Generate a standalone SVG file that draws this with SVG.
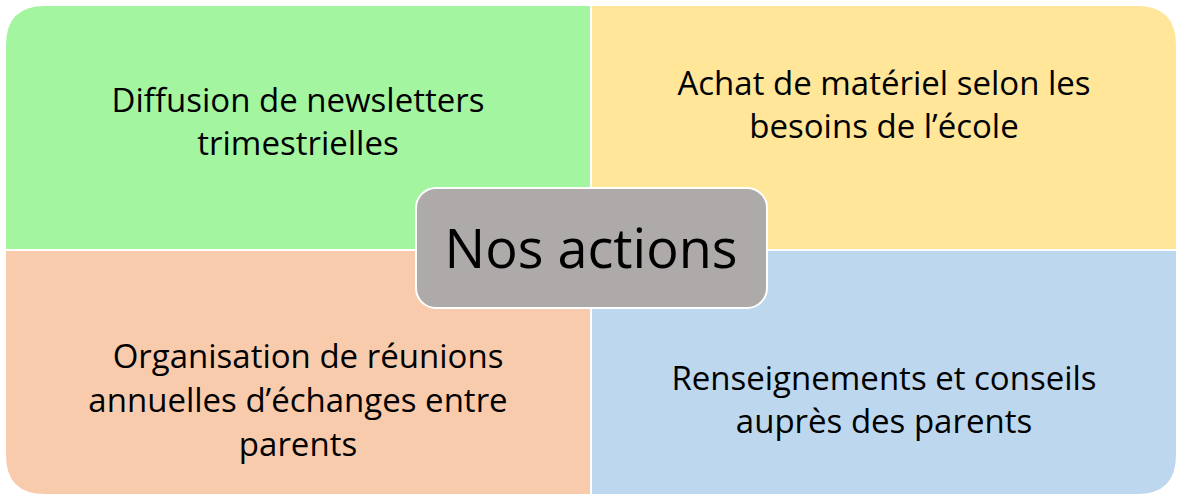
<svg xmlns="http://www.w3.org/2000/svg" width="1182" height="500" viewBox="0 0 1182 500">
<style>
.q{stroke:#fff;stroke-width:2}
.t{font-family:"Open Sans","Liberation Sans",sans-serif;font-size:33px;fill:#000;text-anchor:middle}
</style>
<rect width="1182" height="500" fill="#fff"/>
<g id="q1"><path class="q" d="M5,250 V45 Q5,5 45,5 H591 V250 Z" fill="#A4F5A0"/>
<text class="t" x="298" y="112">Diffusion de newsletters</text><text class="t" x="298" y="155">trimestrielles</text></g>
<g id="q2"><path class="q" d="M591,5 H1137 Q1177,5 1177,45 V250 H591 Z" fill="#FFE699"/>
<text class="t" x="884" y="95">Achat de matériel selon les</text><text class="t" x="884" y="138">besoins de l’école</text></g>
<g id="q3"><path class="q" d="M5,250 H591 V495 H45 Q5,495 5,455 Z" fill="#F8CBAD"/>
<text class="t" x="308" y="368">Organisation de réunions</text><text class="t" x="298" y="412">annuelles d’échanges entre</text><text class="t" x="298" y="456">parents</text></g>
<g id="q4"><path class="q" d="M591,250 H1177 V455 Q1177,495 1137,495 H591 Z" fill="#BDD7EE"/>
<text class="t" x="884" y="390">Renseignements et conseils</text><text class="t" x="884" y="433">auprès des parents</text></g>
<g id="center"><rect x="416" y="188" width="351" height="120" rx="20" fill="#AEAAAA" stroke="#fff" stroke-width="2"/>
<text x="591" y="268" font-family="'Open Sans','Liberation Sans',sans-serif" font-size="54" text-anchor="middle">Nos actions</text></g>
<g id="connectors"/>
</svg>
